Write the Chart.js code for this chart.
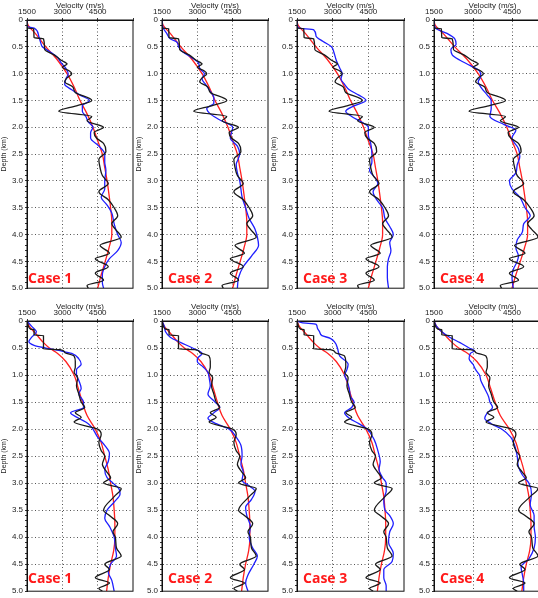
<!DOCTYPE html>
<html>
<head>
<meta charset="utf-8">
<title>Velocity profiles</title>
<script src="https://cdn.jsdelivr.net/npm/chart.js@4.4.0/dist/chart.umd.min.js"></script>
<style>
  body { margin: 0; background: #fff; }
  #wrap { position: relative; width: 538px; height: 598px; overflow: hidden; background: #fff; }
  #wrap canvas { position: absolute; }
  .case { position: absolute; color: #ff1a1a; font: bold 14px "Open Sans", sans-serif; line-height: 14px; white-space: nowrap; }
</style>
</head>
<body>
<div id="wrap"></div>
<script>
// top row: true model (black), starting model (red), inverted (blue)
var depthTrueTop = [0,0.15,0.16,0.33,0.35,0.55,0.65,0.75,0.82,0.88,0.95,1.0,1.08,1.15,1.25,1.35,1.5,1.6,1.7,1.8,1.88,2.0,2.1,2.2,2.3,2.45,2.6,2.75,2.9,3.05,3.2,3.35,3.5,3.65,3.8,3.9,4.05,4.2,4.35,4.45,4.6,4.72,4.85,4.95,5.0];
var velTrueTop = [1500,1500,1780,1800,2200,2250,2650,2950,3200,3000,3300,3400,3200,3100,3450,3550,4250,3600,2850,4250,4050,4750,4350,4450,4750,4850,4550,4600,4700,4950,4550,4950,5200,5350,5100,5250,5500,4600,5000,4400,4950,4400,4750,4050,4100];
var depthInitTop = [0,0.1,0.25,0.5,0.75,1.0,1.25,1.5,1.75,2.0,2.25,2.5,2.75,3.0,3.25,3.5,3.75,4.0,4.25,4.5,4.75,5.0];
var velInitTop = [1500,1550,1850,2300,2800,3200,3500,3750,4050,4300,4500,4700,4800,4900,4980,5050,5100,5100,4980,4820,4650,4500];

var depthTop1 = [0,0.12,0.15,0.3,0.45,0.5,0.6,0.7,0.8,0.9,1.0,1.1,1.2,1.3,1.4,1.5,1.6,1.7,1.8,1.9,2.0,2.1,2.2,2.35,2.5,2.65,2.8,3.0,3.15,3.3,3.45,3.6,3.8,4.0,4.15,4.3,4.45,4.6,4.75,4.9,5.0];
var velTop1 = [1500,1500,1800,2000,2100,2150,2500,2800,2950,3150,3250,3150,3100,3400,3750,4150,3850,3850,4000,4100,4300,4200,4200,4550,4800,4800,4850,4800,4800,4650,4900,5100,5200,5350,5500,5350,5000,4800,4700,4700,4750];
var depthTop2 = [0,0.15,0.25,0.35,0.42,0.5,0.6,0.7,0.8,0.9,1.0,1.1,1.2,1.3,1.45,1.55,1.65,1.75,1.85,2.0,2.2,2.35,2.5,2.7,2.85,3.0,3.15,3.3,3.5,3.7,3.9,4.05,4.2,4.4,4.6,4.8,5.0];
var velTop2 = [1500,1550,1700,1850,2150,2200,2400,2750,3050,3100,3300,3200,3350,3500,3700,3700,3400,3550,3900,4500,4400,4700,4800,4650,4700,4800,4850,4900,5050,5200,5450,5550,5600,5300,4950,4750,4700];
var depthTop3 = [0,0.15,0.18,0.3,0.4,0.5,0.6,0.75,0.9,1.0,1.1,1.2,1.3,1.4,1.5,1.6,1.7,1.8,1.9,2.0,2.15,2.3,2.5,2.65,2.8,2.95,3.05,3.2,3.35,3.5,3.7,3.85,4.0,4.15,4.3,4.45,4.6,4.8,5.0];
var velTop3 = [1500,1550,2200,2300,2600,2950,3050,3150,3300,3400,3350,3500,3700,4100,4400,3900,3550,3800,4200,4500,4500,4600,4650,4650,4550,4800,4900,4700,4850,5100,5200,5400,5550,5400,5450,5350,5300,5300,5350];
var depthTop4 = [0,0.15,0.25,0.35,0.45,0.55,0.65,0.75,0.85,0.95,1.05,1.15,1.25,1.4,1.5,1.65,1.8,1.95,2.05,2.2,2.4,2.55,2.7,2.85,3.0,3.15,3.3,3.5,3.65,3.8,3.95,4.1,4.25,4.4,4.5,4.65,4.8,5.0];
var velTop4 = [1500,1550,2000,2300,2350,2150,2200,2500,2900,3250,3300,3200,3300,3550,3700,3700,3650,4200,4650,4500,4750,4800,4700,4650,4400,4500,4800,5000,5200,4950,4900,4700,4650,4750,4700,4550,4500,4550];

// bottom row
var depthTrueBot = [0,0.08,0.15,0.16,0.26,0.27,0.52,0.53,0.58,0.65,0.75,0.85,0.95,1.05,1.2,1.35,1.5,1.6,1.7,1.78,1.87,2.0,2.1,2.25,2.4,2.5,2.65,2.8,2.9,3.0,3.1,3.25,3.5,3.6,3.75,3.9,4.0,4.2,4.35,4.5,4.6,4.75,4.85,4.95,5.0];
var velTrueBot = [1500,1550,1650,1800,1800,2200,2200,2900,3100,3500,3550,3550,3500,3650,3600,3700,3800,3950,3550,3800,3500,4500,4650,4550,4650,4800,4700,4900,5050,4750,5500,5200,4750,5000,5350,5150,5250,5300,5500,4800,5000,4400,5000,4550,4700];
var depthInitBot = [0,0.1,0.25,0.4,0.5,0.6,0.75,1.0,1.25,1.5,1.75,2.0,2.25,2.5,2.75,3.0,3.25,3.5,3.75,4.0,4.25,4.5,4.75,5.0];
var velInitBot = [1500,1600,1900,2200,2450,2800,3150,3500,3680,3850,4050,4400,4650,4800,4950,5050,5150,5200,5230,5230,5180,5050,4950,4880];

var depthBot1 = [0,0.1,0.2,0.3,0.38,0.45,0.5,0.55,0.6,0.7,0.8,0.9,1.0,1.1,1.25,1.35,1.5,1.6,1.7,1.8,1.9,2.0,2.15,2.3,2.45,2.6,2.75,2.9,3.0,3.1,3.2,3.35,3.5,3.65,3.8,4.0,4.2,4.35,4.5,4.65,4.8,5.0];
var velBot1 = [1500,1700,1900,1700,1580,1800,2300,2900,3400,3700,3800,3600,3600,3700,3800,3700,3900,3900,3350,3700,4100,4300,4500,4800,5000,4950,4800,4900,5150,5400,5450,5200,4900,4800,5000,5200,5250,5300,5050,4950,5100,5200];
var depthBot2 = [0,0.1,0.2,0.3,0.4,0.5,0.6,0.7,0.75,0.85,0.95,1.05,1.2,1.35,1.5,1.6,1.7,1.8,1.9,2.0,2.15,2.3,2.5,2.65,2.8,2.95,3.05,3.15,3.3,3.45,3.6,3.8,4.0,4.2,4.35,4.5,4.7,4.85,5.0];
var velBot2 = [1500,1600,1650,1850,2300,2800,3200,3000,3000,3250,3450,3500,3550,3450,3750,3950,3700,3450,3800,4350,4650,4850,4900,4850,4950,4900,5200,5450,5300,5050,5100,5250,5200,5350,5550,5400,5150,5050,5150];
var depthBot3 = [0,0.03,0.06,0.12,0.2,0.27,0.32,0.4,0.5,0.65,0.8,0.9,1.0,1.1,1.25,1.4,1.5,1.6,1.7,1.8,1.9,2.0,2.2,2.4,2.6,2.75,2.9,3.0,3.15,3.3,3.5,3.6,3.75,3.9,4.1,4.3,4.45,4.6,4.75,4.9,5.0];
var velBot3 = [1500,1700,2300,2350,2450,2550,2900,3100,3200,3300,3650,3600,3500,3600,3700,3750,3900,3800,3500,3700,4100,4450,4750,4900,5000,4950,5100,5250,5250,5150,5200,5400,5550,5400,5350,5550,5500,5150,5150,5250,5250];
var depthBot4 = [0,0.1,0.2,0.3,0.4,0.5,0.55,0.6,0.7,0.8,0.9,1.0,1.1,1.25,1.4,1.5,1.6,1.7,1.8,1.9,2.0,2.15,2.3,2.5,2.7,2.85,3.0,3.2,3.4,3.6,3.8,4.0,4.2,4.4,4.55,4.7,4.85,5.0];
var velBot4 = [1500,1600,1800,2100,2500,2850,3050,2900,2850,3000,3100,3250,3300,3450,3600,3650,3750,3550,3450,3700,4100,4450,4600,4700,4750,4900,5150,5250,5200,5350,5350,5400,5350,5150,4850,4900,4950,4950];

var velTicks = [1500, 3000, 4500];

Chart.defaults.font.family = '"Liberation Sans", Arial, sans-serif';
Chart.defaults.font.size = 8;
Chart.defaults.color = '#222';

var wrap = document.getElementById('wrap');

function pts(d, v) {
  return d.map(function (z, i) { return { x: v[i], y: z }; });
}

// solid box round the plot area
var frame = {
  id: 'frame',
  afterDraw: function (chart) {
    var a = chart.chartArea, ctx = chart.ctx;
    ctx.save();
    ctx.setLineDash([]);
    ctx.strokeStyle = '#111';
    ctx.lineWidth = 1;
    ctx.strokeRect(a.left, a.top, a.right - a.left, a.bottom - a.top);
    ctx.restore();
  }
};

function line(data, color) {
  return { data: data, borderColor: color, borderWidth: 1.3, pointRadius: 0, fill: false,
           cubicInterpolationMode: 'monotone' };
}

function panel(left, top, areaW, areaH, caseNo, tD, tV, iD, iV, bD, bV, labX, labY) {
  var c = document.createElement('canvas');
  c.width = 27 + areaW + 2;
  c.height = 20 + areaH + 3;
  c.style.left = left + 'px';
  c.style.top = top + 'px';
  wrap.appendChild(c);

  new Chart(c, {
    type: 'line',
    data: {
      datasets: [
        line(pts(tD, tV), '#1a1a1a'),
        line(pts(bD, bV), '#1f1fff'),
        line(pts(iD, iV), '#ff2020')
      ]
    },
    options: {
      indexAxis: 'y',
      responsive: false,
      animation: false,
      devicePixelRatio: 1,
      layout: { padding: { left: 0, right: 2, top: 0, bottom: 3 } },
      plugins: { legend: { display: false }, tooltip: { enabled: false } },
      scales: {
        x: {
          type: 'linear', position: 'top', min: 1500, max: 6000,
          afterFit: function (s) { s.height = 20; },
          afterBuildTicks: function (s) { s.ticks = velTicks.concat([6000]).map(function (v) { return { value: v }; }); },
          ticks: { padding: 1, maxRotation: 0,
                   callback: function (v) { return velTicks.indexOf(v) >= 0 ? String(v) : ''; } },
          grid: { color: function (ctx) { var v = ctx.tick ? ctx.tick.value : 0; return (v === 1500 || v === 6000) ? 'rgba(0,0,0,0)' : '#555'; },
                  tickColor: '#333', tickLength: 2 },
          border: { color: '#111', width: 1, dash: [1, 2.5] },
          title: { display: true, text: 'Velocity (m/s)', font: { size: 8 }, padding: { top: 1, bottom: 0 } }
        },
        y: {
          type: 'linear', reverse: true, min: 0, max: 5,
          afterFit: function (s) { s.width = 27; },
          ticks: { stepSize: 0.1, autoSkip: false, padding: 2,
                   callback: function (v) { var k = Math.round(v * 10); return k % 5 === 0 ? (k === 0 ? '0' : (k / 10).toFixed(1)) : ''; } },
          grid: { color: function (ctx) { var v = ctx.tick ? ctx.tick.value : 0; var k = Math.round(v * 10); return (k % 5 === 0 && k > 0 && k < 50) ? '#555' : 'rgba(0,0,0,0)'; },
                  tickColor: '#333', tickLength: 2 },
          border: { color: '#111', width: 1, dash: [1, 2.5] },
          title: { display: true, text: 'Depth (km)', font: { size: 7 }, padding: 0 }
        }
      }
    },
    plugins: [frame]
  });

  var t = document.createElement('div');
  t.className = 'case';
  t.textContent = 'Case ' + caseNo;
  t.style.left = labX + 'px';
  t.style.top = labY + 'px';
  wrap.appendChild(t);
}

var lefts = [0, 135, 270, 407];
var widths = [106, 106, 107, 117];
var labXs = [28, 168, 303, 440];
var topBlue = [[depthTop1, velTop1], [depthTop2, velTop2], [depthTop3, velTop3], [depthTop4, velTop4]];
var botBlue = [[depthBot1, velBot1], [depthBot2, velBot2], [depthBot3, velBot3], [depthBot4, velBot4]];

for (var i = 0; i < 4; i++) {
  panel(lefts[i], 0, widths[i], 272, i + 1, depthTrueTop, velTrueTop, depthInitTop, velInitTop,
        topBlue[i][0], topBlue[i][1], labXs[i], 271);
  panel(lefts[i], 301, widths[i], 274, i + 1, depthTrueBot, velTrueBot, depthInitBot, velInitBot,
        botBlue[i][0], botBlue[i][1], labXs[i], 571);
}
</script>
</body>
</html>
